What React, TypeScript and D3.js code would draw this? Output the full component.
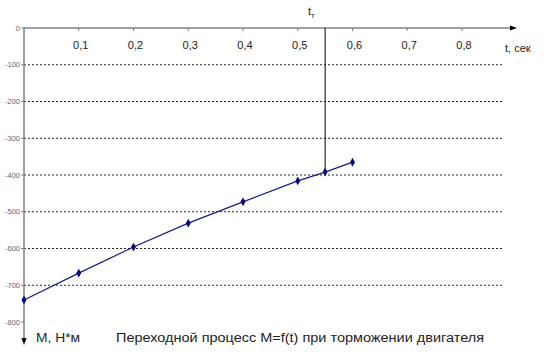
import React from "react";
import * as d3 from "d3";

const times = [0, 0.1, 0.2, 0.3, 0.4, 0.5, 0.55, 0.6];
const moments = [-740, -667, -596, -531, -473, -416, -392, -365];
const xTicks = [0.1, 0.2, 0.3, 0.4, 0.5, 0.6, 0.7, 0.8];
const xTickLabels = ["0,1", "0,2", "0,3", "0,4", "0,5", "0,6", "0,7", "0,8"];
const yTicks = [0, -100, -200, -300, -400, -500, -600, -700, -800];
const gridValues = [-100, -200, -300, -400, -500, -600, -700];
const tT = 0.55;
const title = "Переходной процесс M=f(t) при торможении двигателя";
const yAxisLabel = "M, Н*м";
const xAxisLabel = "t, сек";

export default function App() {
  const W = 556, H = 356;
  const x = d3.scaleLinear().domain([0, 0.8]).range([24, 462]);
  const y = d3.scaleLinear().domain([0, -800]).range([28, 322]);
  const line = d3
    .line<number>()
    .x((_, i) => x(times[i]))
    .y((d) => y(d));
  const font = "Arial, 'Liberation Sans', sans-serif";
  const diamond = d3.symbol().type(d3.symbolDiamond).size(22)();
  const tTIdx = times.indexOf(tT);
  return (
    <svg
      width={W}
      height={H}
      style={{ position: "absolute", left: 0, top: 0, background: "#fff" }}
      fontFamily={font}
    >
      {/* grid lines */}
      {gridValues.map((v) => (
        <line
          key={v}
          x1={x(0)}
          x2={502}
          y1={y(v)}
          y2={y(v)}
          stroke="#000"
          strokeWidth={1}
          strokeDasharray="2,2"
          opacity={0.85}
        />
      ))}
      {/* x axis */}
      <line x1={x(0)} x2={512} y1={y(0)} y2={y(0)} stroke="#808080" strokeWidth={1.5} />
      <path d={`M517,${y(0)} L510,${y(0) - 2.5} L510,${y(0) + 2.5} Z`} fill="#000" />
      {xTicks.map((t) => (
        <line key={t} x1={x(t)} x2={x(t)} y1={y(0)} y2={y(0) + 3} stroke="#808080" strokeWidth={1} />
      ))}
      {xTicks.map((t, i) => (
        <text key={t} x={x(t) + 2} y={49} fontSize={11} textAnchor="middle" fill="#222">
          {xTickLabels[i]}
        </text>
      ))}
      <text x={505} y={52} fontSize={11} fill="#222">
        {xAxisLabel}
      </text>
      {/* y axis */}
      <line x1={x(0)} x2={x(0)} y1={y(0)} y2={340} stroke="#808080" strokeWidth={1.5} />
      <path d={`M${x(0)},345 L${x(0) - 2.5},338 L${x(0) + 2.5},338 Z`} fill="#000" />
      {yTicks.map((v) => (
        <line key={v} x1={x(0) - 3} x2={x(0)} y1={y(v)} y2={y(v)} stroke="#808080" strokeWidth={1} />
      ))}
      {yTicks.map((v) => (
        <text key={v} x={20} y={y(v) + 2.5} fontSize={7.5} textAnchor="end" fill="#666">
          {v}
        </text>
      ))}
      {/* t_T vertical line */}
      <line
        x1={x(tT)}
        x2={x(tT)}
        y1={y(0)}
        y2={y(moments[tTIdx])}
        stroke="#000"
        strokeWidth={1}
      />
      <text x={308} y={15} fontSize={11} fill="#222">
        t<tspan fontSize={8} dy={3}>т</tspan>
      </text>
      {/* data */}
      <path d={line(moments) || ""} fill="none" stroke="#1a1a8a" strokeWidth={1.2} />
      {moments.map((m, i) => (
        <path key={i} d={diamond || ""} transform={`translate(${x(times[i])},${y(m)})`} fill="#0a0a80" />
      ))}
      <text x={36} y={342} fontSize={12} fill="#222" textLength={44} lengthAdjust="spacingAndGlyphs">
        {yAxisLabel}
      </text>
      <text x={116} y={342} fontSize={12} fill="#222" textLength={368} lengthAdjust="spacingAndGlyphs">
        {title}
      </text>
    </svg>
  );
}
